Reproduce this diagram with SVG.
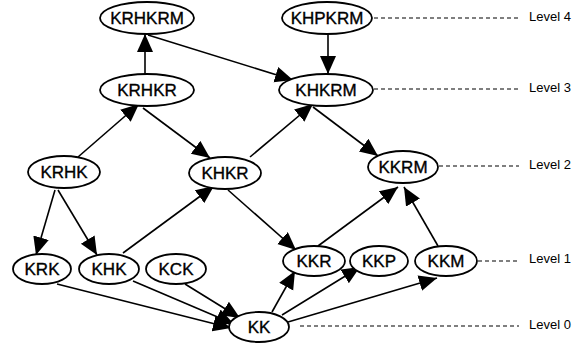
<svg xmlns="http://www.w3.org/2000/svg" width="574" height="346" viewBox="0 0 574 346">
  <style>
    .node ellipse { fill: #ffffff; stroke: #000000; stroke-width: 1.8; }
    .node text { font-family: "Liberation Sans", Arial, sans-serif; font-size: 17px; fill: #000000; stroke: #000000; stroke-width: 0.35; text-anchor: middle; dominant-baseline: central; }
    .edge { stroke: #000000; stroke-width: 1.6; fill: none; marker-end: url(#arrow); }
    .level line { stroke: #000000; stroke-width: 1.1; stroke-dasharray: 4 3; }
    .level text { font-family: "Liberation Sans", Arial, sans-serif; font-size: 13px; fill: #000000; dominant-baseline: central; }
  </style>
  <defs>
    <marker id="arrow" markerUnits="userSpaceOnUse" markerWidth="19" markerHeight="17" refX="18" refY="8" orient="auto">
      <path d="M0,0 L18,8 L0,16 z" fill="#000000"/>
    </marker>
  </defs>
  <rect width="574" height="346" fill="#ffffff"/>

  <!-- level guides -->
  <g id="levels" class="level">
    <line x1="374" y1="18" x2="519" y2="18"/>
    <text x="529" y="16">Level 4</text>
    <line x1="374" y1="89" x2="519" y2="89"/>
    <text x="529" y="87">Level 3</text>
    <line x1="439" y1="166" x2="519" y2="166"/>
    <text x="529" y="164">Level 2</text>
    <line x1="478" y1="261" x2="519" y2="261"/>
    <text x="529" y="258">Level 1</text>
    <line x1="300" y1="326" x2="519" y2="326"/>
    <text x="529" y="324">Level 0</text>
  </g>

  <!-- connectors -->
  <g id="edges">
    <line class="edge" x1="145" y1="74" x2="145" y2="34"/>
    <line class="edge" x1="148" y1="35" x2="293" y2="80"/>
    <line class="edge" x1="328" y1="34" x2="328" y2="74"/>
    <line class="edge" x1="78" y1="157" x2="139" y2="104"/>
    <line class="edge" x1="143" y1="108" x2="210" y2="158"/>
    <line class="edge" x1="250" y1="157" x2="313" y2="104"/>
    <line class="edge" x1="313" y1="107" x2="378" y2="156"/>
    <line class="edge" x1="55" y1="190" x2="36" y2="255"/>
    <line class="edge" x1="58" y1="190" x2="97" y2="255"/>
    <line class="edge" x1="123" y1="253" x2="214" y2="186"/>
    <line class="edge" x1="228" y1="190" x2="296" y2="250"/>
    <line class="edge" x1="57" y1="284" x2="231" y2="328"/>
    <line class="edge" x1="133" y1="281" x2="234" y2="324"/>
    <line class="edge" x1="185" y1="284" x2="240" y2="318"/>
    <line class="edge" x1="272" y1="312" x2="295" y2="271"/>
    <line class="edge" x1="282" y1="315" x2="360" y2="267"/>
    <line class="edge" x1="288" y1="322" x2="437" y2="278"/>
    <line class="edge" x1="318" y1="246" x2="398" y2="187"/>
    <line class="edge" x1="438" y1="246" x2="404" y2="187"/>
  </g>

  <!-- nodes -->
  <g id="KRHKRM" class="node"><ellipse cx="147" cy="18" rx="47" ry="16"/><text x="147" y="18">KRHKRM</text></g>
  <g id="KHPKRM" class="node"><ellipse cx="327" cy="18" rx="45" ry="16"/><text x="327" y="18">KHPKRM</text></g>
  <g id="KRHKR" class="node"><ellipse cx="147" cy="90" rx="47" ry="16"/><text x="147" y="90">KRHKR</text></g>
  <g id="KHKRM" class="node"><ellipse cx="326" cy="90" rx="47" ry="16"/><text x="326" y="90">KHKRM</text></g>
  <g id="KRHK" class="node"><ellipse cx="64" cy="172" rx="36" ry="16"/><text x="64" y="172">KRHK</text></g>
  <g id="KHKR" class="node"><ellipse cx="225" cy="173" rx="36" ry="16"/><text x="225" y="173">KHKR</text></g>
  <g id="KKRM" class="node"><ellipse cx="403" cy="167" rx="35" ry="16"/><text x="403" y="167">KKRM</text></g>
  <g id="KRK" class="node"><ellipse cx="42" cy="269" rx="29" ry="15"/><text x="42" y="269">KRK</text></g>
  <g id="KHK" class="node"><ellipse cx="109" cy="269" rx="30" ry="15"/><text x="109" y="269">KHK</text></g>
  <g id="KCK" class="node"><ellipse cx="176" cy="269" rx="30" ry="15"/><text x="176" y="269">KCK</text></g>
  <g id="KKR" class="node"><ellipse cx="314" cy="261" rx="31" ry="15"/><text x="314" y="261">KKR</text></g>
  <g id="KKP" class="node"><ellipse cx="379" cy="261" rx="29" ry="15"/><text x="379" y="261">KKP</text></g>
  <g id="KKM" class="node"><ellipse cx="446" cy="261" rx="31" ry="15"/><text x="446" y="261">KKM</text></g>
  <g id="KK" class="node"><ellipse cx="259" cy="327" rx="30" ry="15"/><text x="259" y="327">KK</text></g>
</svg>
